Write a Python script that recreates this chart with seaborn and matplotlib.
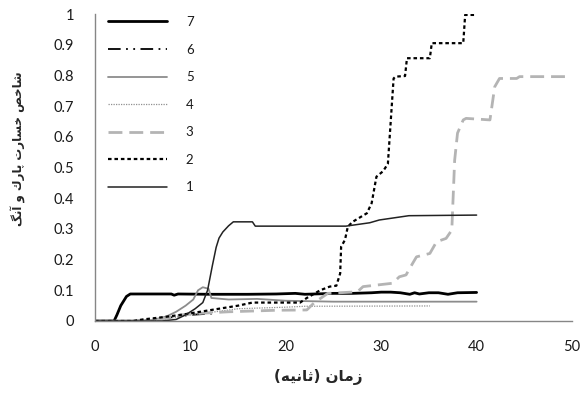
import matplotlib
matplotlib.use("Agg")
import matplotlib.pyplot as plt
import seaborn as sns
import pandas as pd

# ---------------- data ----------------
s7_x = [0, 2.0, 2.3, 2.7, 3.0, 3.3, 3.7, 5, 8, 8.3, 8.7, 12, 16, 19, 21, 22, 25, 27, 29, 30, 31, 32, 33, 33.5, 34, 35, 36, 37, 38, 40]
s7_y = [0, 0, 0.02, 0.05, 0.065, 0.08, 0.088, 0.088, 0.088, 0.084, 0.088, 0.087, 0.087, 0.088, 0.09, 0.087, 0.09, 0.09, 0.092, 0.094, 0.094, 0.092, 0.087, 0.092, 0.088, 0.092, 0.092, 0.087, 0.092, 0.093]

s6_x = [0, 4, 6, 8, 10, 12.6]
s6_y = [0, 0, 0.005, 0.012, 0.02, 0.025]

s5_x = [0, 6, 7.5, 8.5, 9.5, 10.3, 10.8, 11.3, 11.9, 12.2, 14, 17, 20, 25, 40]
s5_y = [0, 0.003, 0.015, 0.03, 0.05, 0.07, 0.1, 0.11, 0.105, 0.075, 0.07, 0.072, 0.066, 0.063, 0.063]

s4_x = [0, 6, 8, 10, 12.6, 15, 20, 22, 35.1]
s4_y = [0, 0, 0.01, 0.02, 0.03, 0.04, 0.045, 0.048, 0.049]

s3_x = [0, 6, 7.5, 9, 11, 14, 19, 22.2, 23, 24.4, 27.5, 28.1, 31.2, 31.9, 32.6, 33.3, 33.7, 35.1, 35.8, 36.8, 37.4, 37.5, 37.7, 38.0, 38.6, 38.9, 41.4, 41.9, 42.4, 44.2, 44.5, 49.7]
s3_y = [0, 0, 0.01, 0.02, 0.025, 0.03, 0.035, 0.036, 0.06, 0.09, 0.095, 0.112, 0.123, 0.144, 0.15, 0.188, 0.209, 0.22, 0.258, 0.269, 0.296, 0.372, 0.524, 0.612, 0.655, 0.66, 0.655, 0.763, 0.79, 0.79, 0.796, 0.796]

s2_x = [0, 4, 5, 7, 9, 11, 13, 15, 16.5, 21.5, 22.2, 23.6, 24.6, 25.3, 25.7, 25.8, 26.2, 26.5, 27.0, 28.5, 29.0, 29.5, 30.2, 30.7, 31.3, 31.5, 32.5, 32.7, 35.1, 35.3, 38.6, 38.8, 40]
s2_y = [0, 0, 0.005, 0.012, 0.02, 0.03, 0.04, 0.05, 0.06, 0.06, 0.075, 0.1, 0.112, 0.115, 0.155, 0.242, 0.264, 0.307, 0.323, 0.351, 0.384, 0.47, 0.488, 0.512, 0.79, 0.796, 0.798, 0.856, 0.856, 0.905, 0.905, 0.997, 0.997]

s1_x = [0, 7, 8.5, 9.5, 10.5, 11.3, 11.8, 12.3, 12.7, 13.0, 13.4, 14.0, 14.5, 16.5, 16.8, 26.3, 28.8, 29.8, 32.9, 40]
s1_y = [0, 0, 0.005, 0.02, 0.04, 0.06, 0.1, 0.18, 0.24, 0.27, 0.29, 0.31, 0.323, 0.323, 0.309, 0.309, 0.32, 0.329, 0.343, 0.345]

x_ticks = [0, 10, 20, 30, 40, 50]
y_ticks = [0, 0.1, 0.2, 0.3, 0.4, 0.5, 0.6, 0.7, 0.8, 0.9, 1]
y_tick_labels = ["0", "0.1", "0.2", "0.3", "0.4", "0.5", "0.6", "0.7", "0.8", "0.9", "1"]
x_label = "زمان (ثانیه)"
y_label = "شاخص خسارت پارک و آنگ"

# ------------- simple Persian shaping -------------
FORMS = {
    'ا': ('\uFE8D', '\uFE8E', None, None),
    'آ': ('\uFE81', '\uFE82', None, None),
    'د': ('\uFEA9', '\uFEAA', None, None),
    'ر': ('\uFEAD', '\uFEAE', None, None),
    'ز': ('\uFEAF', '\uFEB0', None, None),
    'و': ('\uFEED', '\uFEEE', None, None),
    'ب': ('\uFE8F', '\uFE90', '\uFE91', '\uFE92'),
    'پ': ('\uFB56', '\uFB57', '\uFB58', '\uFB59'),
    'ت': ('\uFE95', '\uFE96', '\uFE97', '\uFE98'),
    'ث': ('\uFE99', '\uFE9A', '\uFE9B', '\uFE9C'),
    'خ': ('\uFEA5', '\uFEA6', '\uFEA7', '\uFEA8'),
    'س': ('\uFEB1', '\uFEB2', '\uFEB3', '\uFEB4'),
    'ش': ('\uFEB5', '\uFEB6', '\uFEB7', '\uFEB8'),
    'ص': ('\uFEB9', '\uFEBA', '\uFEBB', '\uFEBC'),
    'ک': ('\uFED9', '\uFEDA', '\uFEDB', '\uFEDC'),
    'گ': ('\uFB92', '\uFB93', '\uFB94', '\uFB95'),
    'م': ('\uFEE1', '\uFEE2', '\uFEE3', '\uFEE4'),
    'ن': ('\uFEE5', '\uFEE6', '\uFEE7', '\uFEE8'),
    'ه': ('\uFEE9', '\uFEEA', '\uFEEB', '\uFEEC'),
    'ی': ('\uFEEF', '\uFEF0', '\uFEF3', '\uFEF4'),
}


def shape(text):
    out = []
    n = len(text)
    for i, ch in enumerate(text):
        if ch not in FORMS:
            out.append(ch)
            continue
        f = FORMS[ch]
        prev = text[i - 1] if i > 0 else ''
        nxt = text[i + 1] if i < n - 1 else ''
        join_prev = prev in FORMS and FORMS[prev][2] is not None
        join_next = f[2] is not None and nxt in FORMS
        if join_prev and join_next:
            out.append(f[3])
        elif join_prev:
            out.append(f[1])
        elif join_next:
            out.append(f[2])
        else:
            out.append(f[0])
    vis = ''.join(reversed(out))
    vis = vis.replace('(', '\0').replace(')', '(').replace('\0', ')')
    return vis


# ---------------- plot ----------------
sns.set_style("white")
plt.rcParams['font.family'] = ['Lato', 'DejaVu Sans']

fig = plt.figure(figsize=(5.81, 3.97), dpi=100)
ax = fig.add_axes([95 / 581, 1 - 321 / 397, 477 / 581, 307 / 397])

series = [
    ("7", s7_x, s7_y, dict(color="black", lw=2.0, ls="-")),
    ("6", s6_x, s6_y, dict(color="black", lw=1.3, ls=(0, (7, 3, 1, 3, 1, 3)))),
    ("5", s5_x, s5_y, dict(color="#8c8c8c", lw=1.3, ls="-")),
    ("4", s4_x, s4_y, dict(color="#909090", lw=0.9, ls=(0, (1, 1)))),
    ("3", s3_x, s3_y, dict(color="#b4b4b4", lw=2.0, ls=(0, (5, 2.5)))),
    ("2", s2_x, s2_y, dict(color="black", lw=1.6, ls=(0, (1.6, 1.3)))),
    ("1", s1_x, s1_y, dict(color="#222222", lw=1.1, ls="-")),
]

for name, xs, ys, st in series:
    df = pd.DataFrame({"x": xs, "y": ys})
    sns.lineplot(data=df, x="x", y="y", ax=ax, estimator=None, sort=False,
                 color=st["color"], linewidth=st["lw"], linestyle=st["ls"], label=name)

ax.set_xlim(0, 50)
ax.set_ylim(0, 1)
ax.set_xticks(x_ticks)
ax.set_xticklabels([str(v) for v in x_ticks])
ax.set_yticks(y_ticks)
ax.set_yticklabels(y_tick_labels)

for sp in ["top", "right"]:
    ax.spines[sp].set_visible(False)
for sp in ["left", "bottom"]:
    ax.spines[sp].set_color("#868686")
    ax.spines[sp].set_linewidth(1.0)

ax.tick_params(axis="both", which="major", direction="out", length=5, width=1,
               color="#868686", labelsize=10.5, labelcolor="#1a1a1a")
ax.tick_params(axis="y", pad=10)
ax.tick_params(axis="x", pad=9)

ax.set_xlabel(shape(x_label), fontsize=11, fontweight="bold", family=["DejaVu Sans"])
ax.set_ylabel(shape(y_label), fontsize=8.5, fontweight="bold", family=["DejaVu Sans"])
ax.xaxis.set_label_coords((318 - 95) / 477, -(369 - 321) / 307)
ax.yaxis.set_label_coords((26 - 95) / 477, (321 - 149) / 307)

leg = ax.legend(loc="upper left", bbox_to_anchor=((108 - 95) / 477, (321 - 16) / 307),
                frameon=False, fontsize=9.5, handlelength=4.5, handletextpad=1.4,
                labelspacing=1.18, borderpad=0, borderaxespad=0)
for t in leg.get_texts():
    t.set_color("#1a1a1a")

fig.savefig("out.png", dpi=100)
